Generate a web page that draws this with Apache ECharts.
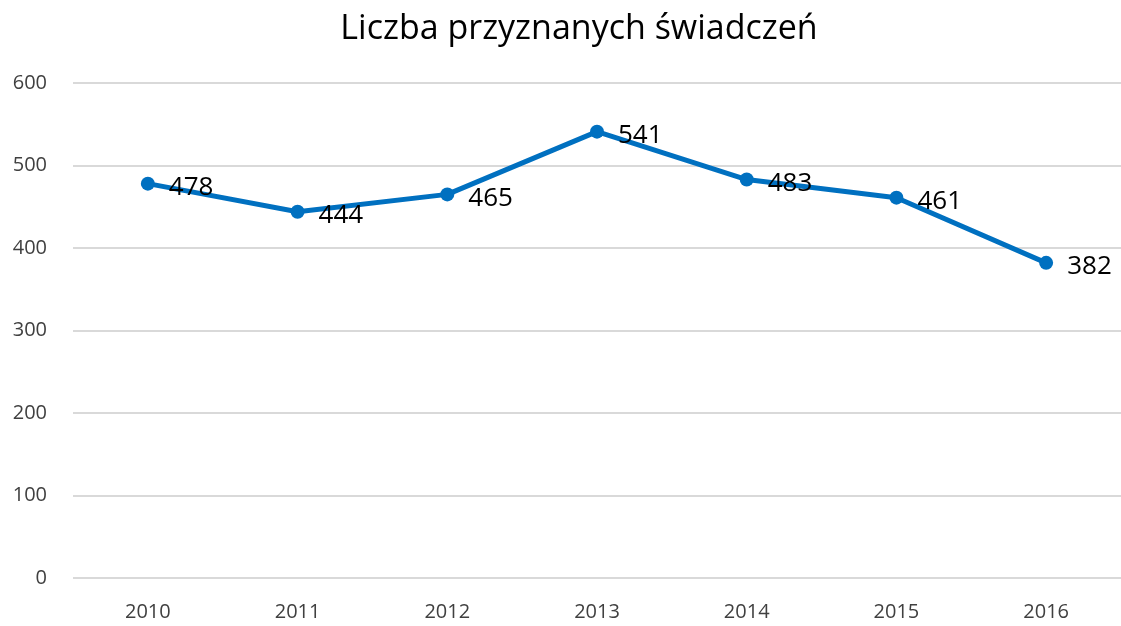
<!DOCTYPE html>
<html>
<head>
<meta charset="utf-8">
<script src="https://cdn.jsdelivr.net/npm/echarts@6/dist/echarts.min.js"></script>
<style>
  html, body { margin: 0; padding: 0; background: #fff; }
  #chart { width: 1121px; height: 626px; }
</style>
</head>
<body>
<div id="chart"></div>
<script>
// dane
var years = ['2010', '2011', '2012', '2013', '2014', '2015', '2016'];
var values = [478, 444, 465, 541, 483, 461, 382];
var yTicks = [0, 100, 200, 300, 400, 500, 600];

var font = '"Open Sans", "Noto Sans", sans-serif';

var chart = echarts.init(document.getElementById('chart'));
var option = {
    backgroundColor: '#fff',
    title: {
        text: 'Liczba przyznanych świadczeń',
        left: 574,
        textAlign: 'center',
        top: 7,
        textStyle: { fontFamily: font, fontSize: 34, fontWeight: 'normal', color: '#000' }
    },
    grid: { left: 73, width: 1051, top: 83, bottom: 48 },
    xAxis: {
        type: 'category',
        data: years,
        boundaryGap: true,
        axisLine: { show: false },
        axisTick: { show: false },
        axisLabel: { fontFamily: font, fontSize: 20, color: '#404040', margin: 24 }
    },
    yAxis: {
        type: 'value',
        min: yTicks[0],
        max: yTicks[yTicks.length - 1],
        interval: 100,
        axisLine: { show: false },
        axisTick: { show: false },
        splitLine: { lineStyle: { color: '#d9d9d9', width: 2 } },
        axisLabel: { fontFamily: font, fontSize: 20, color: '#404040', margin: 26 }
    },
    series: [{
        type: 'line',
        data: values,
        symbol: 'circle',
        symbolSize: 14,
        lineStyle: { color: '#0070c0', width: 5 },
        itemStyle: { color: '#0070c0' },
        label: {
            show: true,
            position: 'right',
            distance: 14,
            offset: [0, 4],
            fontFamily: font,
            fontSize: 26,
            color: '#000'
        },
        animation: false
    }]
};
chart.setOption(option, true);
</script>
</body>
</html>
